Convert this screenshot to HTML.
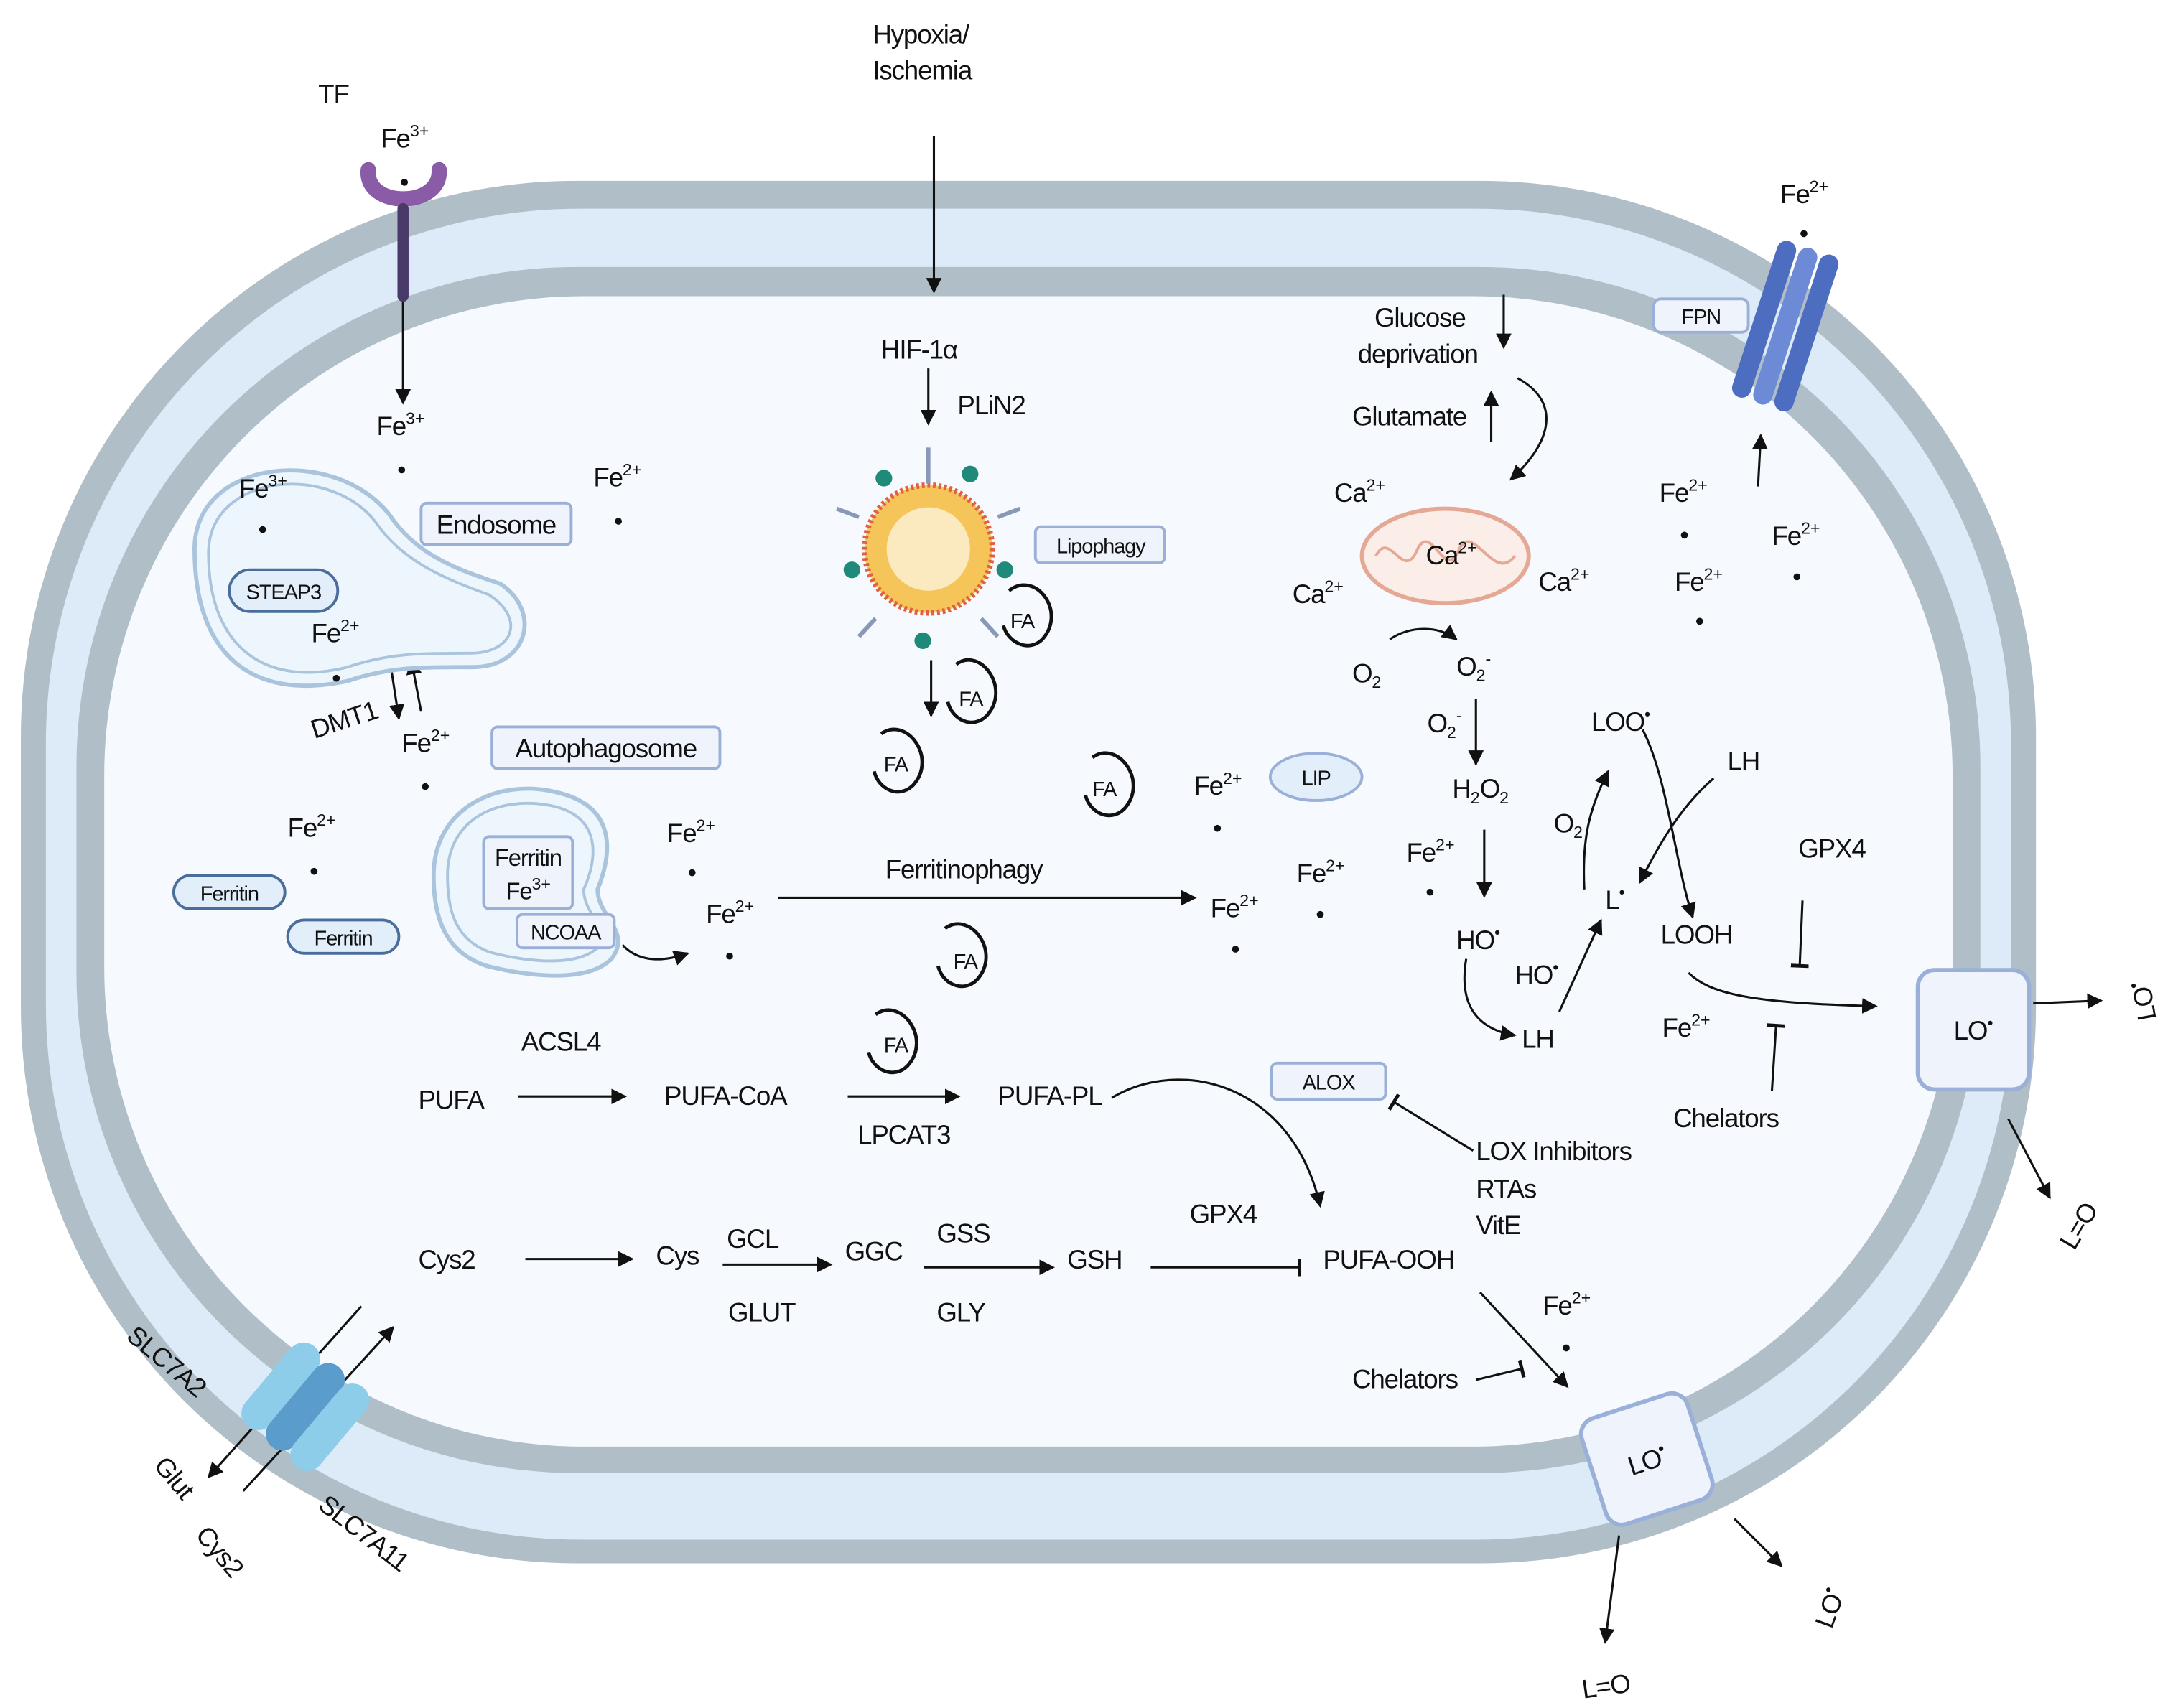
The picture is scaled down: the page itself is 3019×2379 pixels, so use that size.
<!DOCTYPE html>
<html><head><meta charset="utf-8"><style>
html,body{margin:0;padding:0;background:#fff}
svg{display:block}
text{font-family:"Liberation Sans Narrow","Liberation Sans",sans-serif;font-size:19px;letter-spacing:-0.6px;fill:#111}
.s{font-size:12px;letter-spacing:0}
.b{font-size:15px}
</style></head><body>
<svg width="3019" height="2379" viewBox="0 0 1560 1229" xmlns="http://www.w3.org/2000/svg">
<defs>
<marker id="a" viewBox="0 0 10 10" refX="9" refY="5" markerWidth="7" markerHeight="7" orient="auto-start-reverse"><path d="M0,0 L10,5 L0,10 z" fill="#111"/></marker>
<marker id="t" viewBox="0 0 10 10" refX="5" refY="5" markerWidth="8" markerHeight="8" orient="auto"><path d="M5,0 L5,10" stroke="#111" stroke-width="2"/></marker>
</defs>
<rect x="15" y="130" width="1450" height="995" rx="400" fill="#b0bec8"/>
<rect x="33" y="150" width="1414" height="958" rx="385" fill="#ddebf9"/>
<rect x="55" y="192" width="1370" height="868" rx="360" fill="#b0bec8"/>
<rect x="75" y="213" width="1330" height="828" rx="345" fill="#f6f9fd"/>

<g stroke="#111" stroke-width="1.6" fill="none">
<line x1="290" y1="215" x2="290" y2="290" marker-end="url(#a)"/>
<line x1="672" y1="98" x2="672" y2="210" marker-end="url(#a)"/>
<line x1="668" y1="265" x2="668" y2="305" marker-end="url(#a)"/>
<line x1="670" y1="475" x2="670" y2="515" marker-end="url(#a)"/>
<line x1="1082" y1="212" x2="1082" y2="250" marker-end="url(#a)"/>
<line x1="1073" y1="318" x2="1073" y2="282" marker-end="url(#a)"/>
<path d="M1092,272 C1125,290 1115,320 1087,345" marker-end="url(#a)"/>
<path d="M1000,460 C1015,450 1035,450 1048,460" marker-end="url(#a)"/>
<line x1="1062" y1="503" x2="1062" y2="550" marker-end="url(#a)"/>
<line x1="1068" y1="597" x2="1068" y2="645" marker-end="url(#a)"/>
<path d="M1055,690 C1050,720 1060,740 1090,745" marker-end="url(#a)"/>
<line x1="1122" y1="728" x2="1152" y2="662" marker-end="url(#a)"/>
<path d="M1140,640 C1138,600 1145,580 1157,555" marker-end="url(#a)"/>
<path d="M1233,560 C1210,580 1195,605 1180,635" marker-end="url(#a)"/>
<path d="M1182,525 C1200,560 1205,620 1218,660" marker-end="url(#a)"/>
<path d="M1215,700 C1230,715 1260,722 1350,724" marker-end="url(#a)"/>
<line x1="1297" y1="648" x2="1295" y2="695" marker-end="url(#t)"/>
<line x1="1275" y1="785" x2="1278" y2="738" marker-end="url(#t)"/>
<line x1="1463" y1="722" x2="1512" y2="720" marker-end="url(#a)"/>
<line x1="1445" y1="805" x2="1475" y2="862" marker-end="url(#a)"/>
<line x1="1265" y1="350" x2="1267" y2="313" marker-end="url(#a)"/>
<path d="M163,380 C185,392 200,392 218,388" marker-end="url(#a)"/>
<path d="M182,460 C195,450 208,448 222,456" marker-end="url(#a)"/>
<line x1="281" y1="478" x2="287" y2="517" marker-end="url(#a)"/>
<line x1="303" y1="512" x2="296" y2="475" marker-end="url(#a)"/>
<path d="M448,680 C460,693 478,692 495,686" marker-end="url(#a)"/>
<line x1="560" y1="646" x2="860" y2="646" marker-end="url(#a)"/>
<line x1="373" y1="789" x2="450" y2="789" marker-end="url(#a)"/>
<line x1="610" y1="789" x2="690" y2="789" marker-end="url(#a)"/>
<path d="M800,790 C850,760 930,780 950,868" marker-end="url(#a)"/>
<line x1="1060" y1="828" x2="1003" y2="793" marker-end="url(#t)"/>
<line x1="378" y1="906" x2="455" y2="906" marker-end="url(#a)"/>
<line x1="520" y1="910" x2="598" y2="910" marker-end="url(#a)"/>
<line x1="665" y1="912" x2="758" y2="912" marker-end="url(#a)"/>
<line x1="828" y1="912" x2="935" y2="912" marker-end="url(#t)"/>
<line x1="1065" y1="930" x2="1128" y2="998" marker-end="url(#a)"/>
<line x1="1062" y1="993" x2="1095" y2="985" marker-end="url(#t)"/>
<line x1="1165" y1="1105" x2="1155" y2="1182" marker-end="url(#a)"/>
<line x1="1248" y1="1093" x2="1282" y2="1127" marker-end="url(#a)"/>
<line x1="175" y1="1073" x2="283" y2="955" marker-end="url(#a)"/>
<line x1="260" y1="940" x2="150" y2="1063" marker-end="url(#a)"/>
</g>

<path d="M265,122 C262,150 318,150 316,122" stroke="#8a5ca8" stroke-width="11" fill="none" stroke-linecap="round"/>
<line x1="290" y1="150" x2="290" y2="213" stroke="#4a3a6a" stroke-width="8" stroke-linecap="round"/>
<g transform="rotate(18 1283 233)">
<rect x="1262" y="175" width="14" height="118" rx="7" fill="#4d6ec0"/>
<rect x="1278" y="175" width="14" height="118" rx="7" fill="#6c8ad6"/>
<rect x="1294" y="175" width="14" height="118" rx="7" fill="#4d6ec0"/>
</g>
<rect x="1190" y="215" width="68" height="24" rx="5" fill="#eef3fc" stroke="#9ab0d8" stroke-width="2"/>
<text x="1224" y="233" class="b" text-anchor="middle">FPN</text>
<g transform="rotate(40 220 1012)">
<rect x="185" y="975" width="24" height="75" rx="12" fill="#8dcdea"/>
<rect x="208" y="975" width="24" height="75" rx="12" fill="#5a9ccc"/>
<rect x="231" y="975" width="24" height="75" rx="12" fill="#8dcdea"/>
</g>

<path d="M140,395 C140,330 240,320 280,370 C300,400 330,410 360,420 C390,440 380,480 340,480 C300,480 280,480 250,490 C180,505 140,470 140,395 Z" fill="#eef6fd" stroke="#a9c4dc" stroke-width="3"/>
<path d="M150,398 C150,340 240,332 272,378 C292,406 325,418 352,428 C378,445 370,470 338,470 C300,470 280,470 250,480 C190,495 150,465 150,398 Z" fill="none" stroke="#a9c4dc" stroke-width="2"/>
<rect x="165" y="410" width="78" height="30" rx="15" fill="#e3eefb" stroke="#4a6e9c" stroke-width="2"/>
<text x="204" y="431" class="b" text-anchor="middle">STEAP3</text>
<rect x="303" y="362" width="108" height="30" rx="4" fill="#eef3fc" stroke="#9ab0d8" stroke-width="2"/>
<text x="357" y="384" text-anchor="middle">Endosome</text>
<path d="M312,630 C312,580 360,560 400,570 C445,580 440,615 430,640 C430,660 455,670 440,690 C420,710 370,700 350,695 C320,685 312,660 312,630 Z" fill="#eef6fd" stroke="#a9c4dc" stroke-width="3"/>
<path d="M322,630 C322,588 360,572 398,580 C433,588 430,618 420,640 C420,660 442,668 430,682 C412,698 370,690 352,685 C328,676 322,656 322,630 Z" fill="none" stroke="#a9c4dc" stroke-width="2"/>
<rect x="348" y="602" width="64" height="52" rx="4" fill="#eef3fc" stroke="#9ab0d8" stroke-width="2"/>
<text x="380" y="623" text-anchor="middle" style="font-size:17px">Ferritin</text>
<text x="364" y="647" style="font-size:17px">Fe<tspan class="s" dy="-7">3+</tspan></text>
<rect x="372" y="658" width="70" height="24" rx="4" fill="#eef3fc" stroke="#9ab0d8" stroke-width="2"/>
<text x="407" y="676" class="b" text-anchor="middle">NCOAA</text>
<rect x="354" y="523" width="164" height="30" rx="4" fill="#eef3fc" stroke="#9ab0d8" stroke-width="2"/>
<text x="436" y="545" text-anchor="middle">Autophagosome</text>
<rect x="125" y="630" width="80" height="24" rx="12" fill="#e3eefb" stroke="#4a6e9c" stroke-width="2"/>
<text x="165" y="648" class="b" text-anchor="middle">Ferritin</text>
<rect x="207" y="662" width="80" height="24" rx="12" fill="#e3eefb" stroke="#4a6e9c" stroke-width="2"/>
<text x="247" y="680" class="b" text-anchor="middle">Ferritin</text>

<circle cx="668" cy="395" r="46" fill="#f6c55a" stroke="#e06040" stroke-width="4" stroke-dasharray="2 2"/>
<circle cx="668" cy="395" r="30" fill="#fbe9c0"/>
<g fill="#1f8a7a"><circle cx="636" cy="344" r="6"/><circle cx="698" cy="341" r="6"/><circle cx="613" cy="410" r="6"/><circle cx="723" cy="410" r="6"/><circle cx="664" cy="461" r="6"/></g>
<g stroke="#8898b8" stroke-width="3"><line x1="668" y1="348" x2="668" y2="322"/><line x1="618" y1="372" x2="602" y2="366"/><line x1="718" y1="372" x2="734" y2="366"/><line x1="630" y1="445" x2="618" y2="458"/><line x1="706" y1="445" x2="718" y2="458"/></g>
<rect x="745" y="379" width="93" height="26" rx="4" fill="#eef3fc" stroke="#9ab0d8" stroke-width="2"/>
<text x="792" y="398" class="b" text-anchor="middle">Lipophagy</text>
<ellipse cx="1040" cy="400" rx="60" ry="34" fill="#fbeee8" stroke="#e4a894" stroke-width="3"/>
<path d="M990,400 C1000,380 1010,420 1020,395 C1030,375 1040,420 1050,395 C1060,375 1075,420 1090,400" fill="none" stroke="#e4a894" stroke-width="2"/>
<ellipse cx="947" cy="559" rx="33" ry="17" fill="#e3eefb" stroke="#9ab0d8" stroke-width="2"/>
<text x="947" y="565" class="b" text-anchor="middle">LIP</text>
<rect x="915" y="765" width="82" height="26" rx="4" fill="#eef3fc" stroke="#9ab0d8" stroke-width="2"/>
<text x="956" y="784" class="b" text-anchor="middle">ALOX</text>
<rect x="1380" y="698" width="80" height="86" rx="12" fill="#eef3fc" stroke="#9ab0d8" stroke-width="3"/>
<text x="1420" y="748" text-anchor="middle">LO<tspan class="s" dy="-8">•</tspan></text>
<g transform="rotate(-18 1185 1050)"><rect x="1145" y="1010" width="80" height="80" rx="12" fill="#eef3fc" stroke="#9ab0d8" stroke-width="3"/>
<text x="1185" y="1058" text-anchor="middle">LO<tspan class="s" dy="-8">•</tspan></text></g>

<g fill="none" stroke="#111" stroke-width="2.5">
<path d="M726,425 C745,410 768,440 750,460 C740,470 725,462 722,450"/>
<path d="M688,478 C705,465 728,495 710,515 C700,525 685,518 682,505"/>
<path d="M634,528 C652,515 675,545 657,565 C647,575 632,568 629,555"/>
<path d="M786,545 C804,532 827,562 809,582 C799,592 784,585 781,572"/>
<path d="M680,668 C698,655 721,685 703,705 C693,715 678,708 675,695"/>
<path d="M630,730 C648,717 671,747 653,767 C643,777 628,770 625,757"/>
</g>
<text x="727" y="452" class="b">FA</text><text x="690" y="508" class="b">FA</text><text x="636" y="555" class="b">FA</text>
<text x="786" y="573" class="b">FA</text><text x="686" y="697" class="b">FA</text><text x="636" y="757" class="b">FA</text>

<g fill="#111">
<circle cx="291" cy="131" r="2.5"/><circle cx="289" cy="338" r="2.5"/><circle cx="445" cy="375" r="2.5"/><circle cx="189" cy="381" r="2.5"/>
<circle cx="242" cy="488" r="2.5"/><circle cx="306" cy="566" r="2.5"/><circle cx="226" cy="627" r="2.5"/><circle cx="498" cy="628" r="2.5"/>
<circle cx="525" cy="688" r="2.5"/><circle cx="876" cy="596" r="2.5"/><circle cx="889" cy="683" r="2.5"/><circle cx="950" cy="658" r="2.5"/>
<circle cx="1029" cy="642" r="2.5"/><circle cx="1212" cy="385" r="2.5"/><circle cx="1223" cy="447" r="2.5"/><circle cx="1293" cy="415" r="2.5"/>
<circle cx="1298" cy="168" r="2.5"/><circle cx="1127" cy="970" r="2.5"/>
</g>

<text x="229" y="74">TF</text>
<text x="274" y="106">Fe<tspan class="s" dy="-8">3+</tspan></text>
<text x="628" y="31">Hypoxia/</text><text x="628" y="57">Ischemia</text>
<text x="271" y="313">Fe<tspan class="s" dy="-8">3+</tspan></text>
<text x="427" y="350">Fe<tspan class="s" dy="-8">2+</tspan></text>
<text x="172" y="358">Fe<tspan class="s" dy="-8">3+</tspan></text>
<text x="224" y="462">Fe<tspan class="s" dy="-8">2+</tspan></text>
<text x="222" y="525" transform="rotate(-18 245 515)">DMT1</text>
<text x="289" y="541">Fe<tspan class="s" dy="-8">2+</tspan></text>
<text x="207" y="602">Fe<tspan class="s" dy="-8">2+</tspan></text>
<text x="480" y="606">Fe<tspan class="s" dy="-8">2+</tspan></text>
<text x="508" y="664">Fe<tspan class="s" dy="-8">2+</tspan></text>
<text x="634" y="258">HIF-1α</text>
<text x="689" y="298">PLiN2</text>
<text x="637" y="632">Ferritinophagy</text>
<text x="859" y="572">Fe<tspan class="s" dy="-8">2+</tspan></text>
<text x="871" y="660">Fe<tspan class="s" dy="-8">2+</tspan></text>
<text x="933" y="635">Fe<tspan class="s" dy="-8">2+</tspan></text>
<text x="989" y="235">Glucose</text><text x="977" y="261">deprivation</text>
<text x="973" y="306">Glutamate</text>
<text x="960" y="361">Ca<tspan class="s" dy="-8">2+</tspan></text>
<text x="1026" y="406">Ca<tspan class="s" dy="-8">2+</tspan></text>
<text x="930" y="434">Ca<tspan class="s" dy="-8">2+</tspan></text>
<text x="1107" y="425">Ca<tspan class="s" dy="-8">2+</tspan></text>
<text x="973" y="491">O<tspan class="s" dy="4">2</tspan></text>
<text x="1048" y="486">O<tspan class="s" dy="4">2</tspan><tspan class="s" dy="-12">-</tspan></text>
<text x="1027" y="527">O<tspan class="s" dy="4">2</tspan><tspan class="s" dy="-12">-</tspan></text>
<text x="1045" y="574">H<tspan class="s" dy="4">2</tspan><tspan dy="-4">O</tspan><tspan class="s" dy="4">2</tspan></text>
<text x="1012" y="620">Fe<tspan class="s" dy="-8">2+</tspan></text>
<text x="1048" y="683">HO<tspan class="s" dy="-8">•</tspan></text>
<text x="1090" y="708">HO<tspan class="s" dy="-8">•</tspan></text>
<text x="1095" y="754">LH</text>
<text x="1118" y="599">O<tspan class="s" dy="4">2</tspan></text>
<text x="1155" y="654">L<tspan class="s" dy="-8">•</tspan></text>
<text x="1145" y="526">LOO<tspan class="s" dy="-8">•</tspan></text>
<text x="1243" y="554">LH</text>
<text x="1195" y="679">LOOH</text>
<text x="1294" y="617">GPX4</text>
<text x="1196" y="746">Fe<tspan class="s" dy="-8">2+</tspan></text>
<text x="1204" y="811">Chelators</text>
<text x="1194" y="361">Fe<tspan class="s" dy="-8">2+</tspan></text>
<text x="1205" y="425">Fe<tspan class="s" dy="-8">2+</tspan></text>
<text x="1275" y="392">Fe<tspan class="s" dy="-8">2+</tspan></text>
<text x="1281" y="146">Fe<tspan class="s" dy="-8">2+</tspan></text>
<text x="1530" y="735" transform="rotate(-100 1540 725)">LO<tspan class="s" dy="-8">•</tspan></text>
<text x="1478" y="895" transform="rotate(-60 1490 885)">L=O</text>
<text x="1138" y="1220" transform="rotate(-8 1155 1212)">L=O</text>
<text x="1302" y="1170" transform="rotate(-70 1312 1160)">LO<tspan class="s" dy="-8">•</tspan></text>
<text x="375" y="756">ACSL4</text>
<text x="301" y="798">PUFA</text>
<text x="478" y="795">PUFA-CoA</text>
<text x="718" y="795">PUFA-PL</text>
<text x="617" y="823">LPCAT3</text>
<text x="1062" y="835">LOX Inhibitors</text>
<text x="1062" y="862">RTAs</text>
<text x="1062" y="888">VitE</text>
<text x="856" y="880">GPX4</text>
<text x="301" y="913">Cys2</text>
<text x="472" y="910">Cys</text>
<text x="523" y="898">GCL</text>
<text x="524" y="951">GLUT</text>
<text x="608" y="907">GGC</text>
<text x="674" y="894">GSS</text>
<text x="674" y="951">GLY</text>
<text x="768" y="913">GSH</text>
<text x="952" y="913">PUFA-OOH</text>
<text x="1110" y="946">Fe<tspan class="s" dy="-8">2+</tspan></text>
<text x="973" y="999">Chelators</text>
<text x="90" y="963" transform="rotate(40 90 963)">SLC7A2</text>
<text x="110" y="1055" transform="rotate(50 110 1055)">Glut</text>
<text x="140" y="1105" transform="rotate(50 140 1105)">Cys2</text>
<text x="228" y="1085" transform="rotate(38 228 1085)">SLC7A11</text>
</svg>
</body></html>
